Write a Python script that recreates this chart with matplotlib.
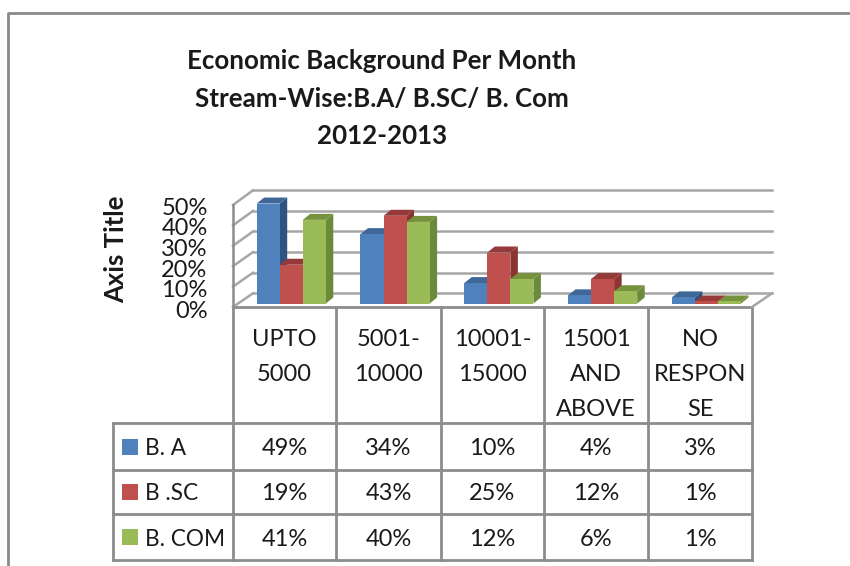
import numpy as np
from matplotlib import pyplot as plt
from matplotlib.patches import Polygon, Rectangle

plt.rcParams['font.family'] = ['Lato', 'DejaVu Sans']

categories = ['UPTO\n5000', '5001-\n10000', '10001-\n15000', '15001\nAND\nABOVE', 'NO\nRESPON\nSE']
series_names = ['B. A', 'B .SC', 'B. COM']
ba = [49, 34, 10, 4, 3]
bsc = [19, 43, 25, 12, 1]
bcom = [41, 40, 12, 6, 1]
ticks = [0, 10, 20, 30, 40, 50]
title_lines = ['Economic Background Per Month', 'Stream-Wise:B.A/ B.SC/ B. Com', '2012-2013']

series = [ba, bsc, bcom]
front = ['#4f81bd', '#c0504d', '#9bbb59']
side = ['#2f5380', '#8c3431', '#6d8a3a']
top = ['#3f6797', '#953a38', '#76923c']
line_col = '#8c8c8c'
grid_col = '#a6a6a6'
text_col = '#1a1a1a'

W, H = 850, 566
fig = plt.figure(figsize=(W / 100, H / 100), dpi=100)

# overlay in pixels for frame and data table
px = fig.add_axes([0, 0, 1, 1])
px.set_xlim(0, W)
px.set_ylim(H, 0)
px.axis('off')

# bar plane, x in categories and y in percent
left, right, base, ppu = 233, 752, 303.5, 2.04
ax = fig.add_axes([left / W, (H - base) / H, (right - left) / W, 50 * ppu / H])
ax.set_xlim(0, 5)
ax.set_ylim(0, 50)
ax.axis('off')

cat_w = (right - left) / 5
dx = 7.5 / cat_w     # bar depth
dy = 6 / ppu
wall_dx = 20 / cat_w

# walls
for t in ticks:
    y0, y1 = t - 1.7, t * 1.01 + 5
    ax.plot([0, wall_dx], [y0, y1], color=grid_col, lw=1.8, clip_on=False, zorder=1)
    ax.plot([wall_dx, 5 + wall_dx], [y1, y1], color=grid_col, lw=1.8, clip_on=False, zorder=1)
    ax.text(-0.245, t * 1.01 - 3.8, f'{t}%', ha='right', va='center', fontsize=17,
            color=text_col, clip_on=False)
ax.plot([0, 0], [-1.7, 48.3], color=line_col, lw=1.8, clip_on=False, zorder=1)
ax.plot([5, 5 + wall_dx], [-1.7, 5], color=grid_col, lw=1.8, clip_on=False, zorder=1)

# bars
bar_w = 0.222
for s, vals in enumerate(series):
    for c, v in enumerate(vals):
        x0 = c + 0.228 + s * bar_w
        x1 = x0 + bar_w
        z = 3 + c + s * 0.01
        ax.add_patch(Polygon([(x1, 0), (x1 + dx, dy), (x1 + dx, v + dy), (x1, v)],
                             color=side[s], clip_on=False, zorder=z, lw=0))
        ax.add_patch(Polygon([(x0, v), (x0 + dx, v + dy), (x1 + dx, v + dy), (x1, v)],
                             color=top[s], clip_on=False, zorder=z, lw=0))
        ax.bar(x0, v, width=bar_w, align='edge', color=front[s], clip_on=False, zorder=z + 0.005)

# data table
col_x = [233, 336, 441, 544, 648, 752]
row_y = [423, 470, 514, 560]
head_y = 307
px.plot([col_x[0], col_x[-1]], [head_y, head_y], color=line_col, lw=2)
for x in col_x:
    px.plot([x, x], [head_y, row_y[-1]], color=line_col, lw=2)
for y in row_y:
    px.plot([113, col_x[-1]], [y, y], color=line_col, lw=2)
px.plot([113, 113], [row_y[0], row_y[-1]], color=line_col, lw=2)

for c, label in enumerate(categories):
    cx = (col_x[c] + col_x[c + 1]) / 2
    for k, part in enumerate(label.split('\n')):
        px.text(cx, 340 + k * 34.5, part, ha='center', va='center', fontsize=17, color=text_col)

for s, vals in enumerate(series):
    cy = (row_y[s] + row_y[s + 1]) / 2
    px.add_patch(Rectangle((122, cy - 8), 16, 16, color=front[s], lw=0))
    px.text(145, cy + 2, series_names[s], ha='left', va='center', fontsize=16.3, color=text_col)
    for c, v in enumerate(vals):
        px.text((col_x[c] + col_x[c + 1]) / 2, cy + 2, f'{v}%', ha='center', va='center',
                fontsize=17, color=text_col)

# frame
px.plot([8, 8, 850], [566, 13, 13], color='#8a8a8a', lw=2)

# titles
for k, line in enumerate(title_lines):
    px.text(382, 61 + k * 37.5, line, ha='center', va='center', fontsize=18.6, fontweight='bold',
            color=text_col)
px.text(116, 249, 'Axis Title', rotation=90, ha='center', va='center', fontsize=18.5,
        fontweight='bold', color=text_col)

plt.savefig('out.png')
